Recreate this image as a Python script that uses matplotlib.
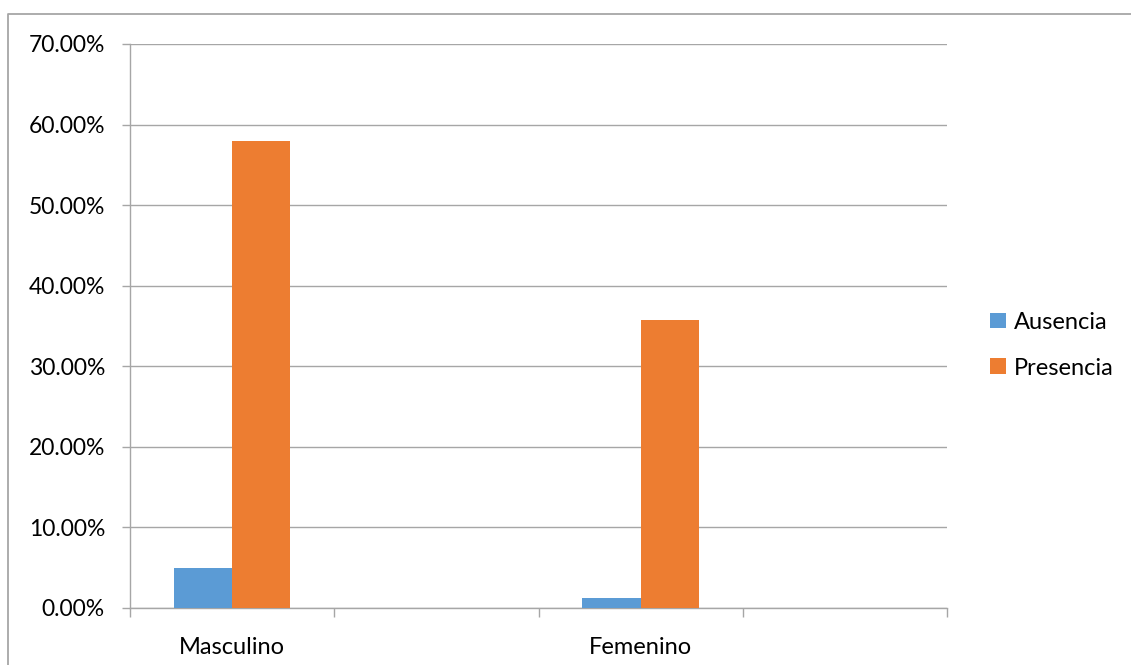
import matplotlib.pyplot as plt
import numpy as np
from matplotlib.lines import Line2D
from matplotlib.ticker import FuncFormatter, MultipleLocator

# Data
categories = ["Masculino", "", "Femenino", ""]
ausencia = [5.0, None, 1.2, None]
presencia = [58.0, None, 35.8, None]
series_names = ["Ausencia", "Presencia"]
colors = ["#5B9BD5", "#ED7D31"]

plt.rcParams["font.family"] = ["Lato", "DejaVu Sans"]

W, H = 1131, 665
fig = plt.figure(figsize=(W / 100, H / 100), dpi=100)
ax = fig.add_axes([130 / W, 1 - 608 / H, 817 / W, 564 / H])

# chart area border (top and left edges; the rest runs off the image)
border = Line2D([8 / W, 8 / W, 1.0], [0.0, 1 - 14 / H, 1 - 14 / H],
                transform=fig.transFigure, color="#A6A6A6", linewidth=1.3)
fig.lines.append(border)

x = np.arange(len(categories))
width = 0.285
for i, (vals, name, col) in enumerate(zip([ausencia, presencia], series_names, colors)):
    xs = [xi for xi, v in zip(x, vals) if v is not None]
    ys = [v for v in vals if v is not None]
    ax.bar(np.array(xs) + (i - 0.5) * width, ys, width, color=col, label=name, zorder=3)

ax.set_xlim(-0.5, len(categories) - 0.5)
ax.set_ylim(0, 70)
ax.yaxis.set_major_locator(MultipleLocator(10))
ax.yaxis.set_major_formatter(FuncFormatter(lambda v, p: f"{v:.2f}%"))
ax.grid(axis="y", color="#A6A6A6", linewidth=1.0, zorder=0)

# category boundary ticks on the x axis
ax.set_xticks(np.arange(len(categories) + 1) - 0.5)
ax.set_xticklabels([])
ax.set_xticks(x, categories, minor=True)
ax.tick_params(axis="x", which="major", length=6.5, color="#A6A6A6", width=1.0)
ax.tick_params(axis="x", which="minor", length=0, pad=21, labelsize=17)
ax.tick_params(axis="y", length=6, color="#A6A6A6", width=1.0, labelsize=16.5, pad=12)

for side in ["top", "right"]:
    ax.spines[side].set_visible(False)
for side in ["left", "bottom"]:
    ax.spines[side].set_color("#A6A6A6")
    ax.spines[side].set_linewidth(1.0)

ax.legend(loc="center left", bbox_to_anchor=(1.053, 0.466), frameon=False,
          fontsize=17, handlelength=0.65, handleheight=0.65, handletextpad=0.35,
          labelspacing=1.05, borderaxespad=0.0, borderpad=0.0)

fig.savefig("out.png", dpi=100)
